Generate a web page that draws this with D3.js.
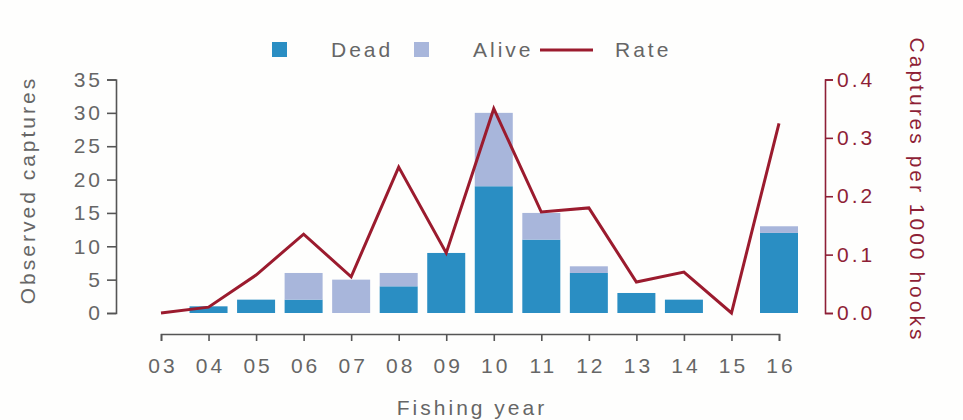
<!DOCTYPE html>
<html>
<head>
<meta charset="utf-8">
<script src="https://cdn.jsdelivr.net/npm/d3@7"></script>
<style>
  html, body { margin: 0; padding: 0; background: #fefefd; }
  svg { display: block; }
  text { font-family: "Liberation Sans", Arial, Helvetica, sans-serif; }
</style>
</head>
<body>
<svg id="chart" width="963" height="420"></svg>
<script>
// Fishing years and observed captures per year
const years = ["03", "04", "05", "06", "07", "08", "09", "10", "11", "12", "13", "14", "15", "16"];
const dead  = [0, 1, 2, 2, 0, 4, 9, 19, 11, 6, 3, 2, 0, 12];
const alive = [0, 0, 0, 4, 5, 2, 0, 11, 4, 1, 0, 0, 0, 1];
// Capture rate per 1000 hooks
const rate  = [0, 0.01, 0.065, 0.135, 0.062, 0.25, 0.103, 0.35, 0.173, 0.18, 0.053, 0.07, 0, 0.325];
const leftTicks  = [0, 5, 10, 15, 20, 25, 30, 35];
const rightTicks = [0, 0.1, 0.2, 0.3, 0.4];

const colDead = "#2a8ec3", colAlive = "#a8b6db", colRate = "#9b1b2e", colRight = "#8e1f36";
const textCol = "#666", axisCol = "#555";
const fs = "21px", ls = "3px";

const svg = d3.select("#chart");

const x = d3.scalePoint().domain(years).range([161, 779]);
const yL = d3.scaleLinear().domain([0, 35]).range([313, 79.5]);
const yR = d3.scaleLinear().domain([0, 0.4]).range([313, 79.5]);
const barW = 38;

const rows = years.map((yr, i) => ({ yr, dead: dead[i], alive: alive[i], rate: rate[i] }));

// Stacked bars: dead at the bottom, alive above
const g = svg.append("g");
g.selectAll("rect.dead").data(rows).join("rect")
  .attr("class", "dead")
  .attr("x", d => x(d.yr) - barW / 2)
  .attr("width", barW)
  .attr("y", d => yL(d.dead))
  .attr("height", d => yL(0) - yL(d.dead))
  .attr("fill", colDead);
g.selectAll("rect.alive").data(rows).join("rect")
  .attr("class", "alive")
  .attr("x", d => x(d.yr) - barW / 2)
  .attr("width", barW)
  .attr("y", d => yL(d.dead + d.alive))
  .attr("height", d => yL(d.dead) - yL(d.dead + d.alive))
  .attr("fill", colAlive);

// Rate line
g.append("path")
  .datum(rows)
  .attr("fill", "none")
  .attr("stroke", colRate)
  .attr("stroke-width", 3)
  .attr("stroke-linejoin", "miter")
  .attr("d", d3.line().x(d => x(d.yr)).y(d => yR(d.rate)));

function styleAxis(sel, lineCol, labelCol) {
  sel.selectAll("path, line").attr("stroke", lineCol).attr("stroke-width", 1.6);
  sel.selectAll("text")
    .attr("fill", labelCol)
    .style("font-size", fs)
    .style("letter-spacing", ls);
}

// Left axis
const axL = svg.append("g").attr("transform", "translate(116,0)")
  .call(d3.axisLeft(yL).tickValues(leftTicks).tickSize(9).tickPadding(4));
axL.attr("font-family", null).attr("font-size", null);
styleAxis(axL, axisCol, textCol);

// Right axis
const axR = svg.append("g").attr("transform", "translate(825,0)")
  .call(d3.axisRight(yR).tickValues(rightTicks).tickSize(8).tickPadding(4).tickFormat(d3.format(".1f")));
axR.attr("font-family", null).attr("font-size", null);
styleAxis(axR, colRight, colRight);

// Bottom axis
const axB = svg.append("g").attr("transform", "translate(0,334)")
  .call(d3.axisBottom(x).tickSize(7).tickPadding(17));
axB.attr("font-family", null).attr("font-size", null);
styleAxis(axB, axisCol, textCol);
axB.selectAll("text").attr("dx", "1.5px");

// Axis titles
svg.append("text")
  .attr("transform", "translate(35,190) rotate(-90)")
  .attr("text-anchor", "middle")
  .attr("fill", textCol)
  .style("font-size", fs).style("letter-spacing", ls)
  .text("Observed captures");

svg.append("text")
  .attr("transform", "translate(910,190) rotate(90)")
  .attr("text-anchor", "middle")
  .attr("fill", colRight)
  .style("font-size", fs).style("letter-spacing", ls)
  .text("Captures per 1000 hooks");

svg.append("text")
  .attr("x", 472).attr("y", 415)
  .attr("text-anchor", "middle")
  .attr("fill", textCol)
  .style("font-size", fs).style("letter-spacing", ls)
  .text("Fishing year");

// Legend
const legend = svg.append("g");
legend.append("rect").attr("x", 272).attr("y", 42).attr("width", 15).attr("height", 15).attr("fill", colDead);
legend.append("text").attr("x", 331).attr("y", 57).attr("fill", textCol)
  .style("font-size", fs).style("letter-spacing", ls).text("Dead");
legend.append("rect").attr("x", 414).attr("y", 42).attr("width", 15).attr("height", 15).attr("fill", colAlive);
legend.append("text").attr("x", 473).attr("y", 57).attr("fill", textCol)
  .style("font-size", fs).style("letter-spacing", ls).text("Alive");
legend.append("line").attr("x1", 540).attr("x2", 593).attr("y1", 50).attr("y2", 50)
  .attr("stroke", colRate).attr("stroke-width", 3);
legend.append("text").attr("x", 615).attr("y", 57).attr("fill", textCol)
  .style("font-size", fs).style("letter-spacing", ls).text("Rate");
</script>
</body>
</html>
